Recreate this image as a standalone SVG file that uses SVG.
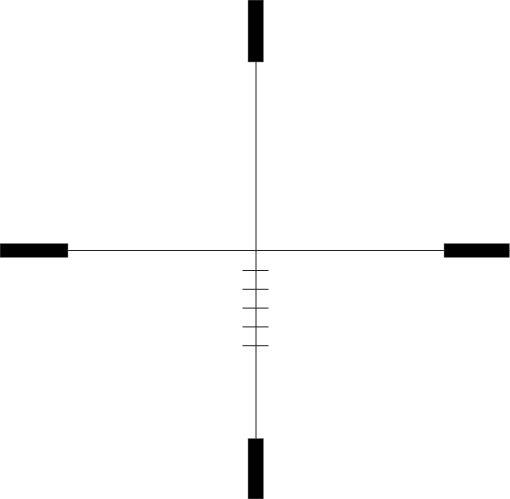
<svg xmlns="http://www.w3.org/2000/svg" width="510" height="499" viewBox="0 0 510 499">
<style>
.bar{fill:#000;stroke:#888;stroke-width:0.5}
.line{stroke:#222;stroke-width:1;fill:none}
</style>
<rect width="510" height="499" fill="#fff"/>
<g id="connectors">
<line class="line" x1="256" y1="0" x2="256" y2="499"/>
<line class="line" x1="0" y1="250.5" x2="510" y2="250.5"/>
<line class="line" x1="242.5" y1="270.5" x2="268.5" y2="270.5"/>
<line class="line" x1="242.5" y1="289.3" x2="268.5" y2="289.3"/>
<line class="line" x1="242.5" y1="308.1" x2="268.5" y2="308.1"/>
<line class="line" x1="242.5" y1="326.9" x2="268.5" y2="326.9"/>
<line class="line" x1="242.5" y1="345.7" x2="268.5" y2="345.7"/>
</g>
<g id="bar-top"><rect class="bar" x="248" y="0" width="15.5" height="62"/></g>
<g id="bar-bottom"><rect class="bar" x="248" y="438.5" width="15.5" height="60.5"/></g>
<g id="bar-left"><rect class="bar" x="0" y="243.5" width="68" height="14"/></g>
<g id="bar-right"><rect class="bar" x="444" y="243.5" width="65.5" height="14"/></g>
</svg>
